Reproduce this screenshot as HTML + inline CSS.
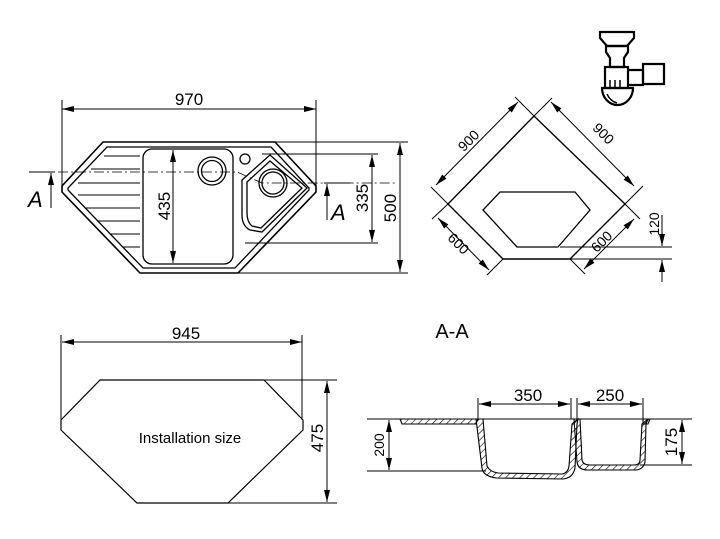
<!DOCTYPE html>
<html><head><meta charset="utf-8"><style>
html,body{margin:0;padding:0;background:#fff}
svg{display:block}
text{font-family:"Liberation Sans",sans-serif;fill:#000}
</style></head><body>
<svg width="720" height="539" viewBox="0 0 720 539" xmlns="http://www.w3.org/2000/svg">
<defs>
<marker id="a" viewBox="0 0 12 6" refX="12" refY="3" markerWidth="12" markerHeight="6" orient="auto-start-reverse" markerUnits="userSpaceOnUse"><path d="M0,0 L12,3 L0,6 Z" fill="#000"/></marker>
<pattern id="h" width="5" height="5" patternUnits="userSpaceOnUse" patternTransform="rotate(45)"><line x1="0" y1="0" x2="0" y2="5" stroke="#000" stroke-width="1.2"/></pattern>
</defs>
<g fill="none" stroke="#000" stroke-width="1.3">
<!-- top sink -->
<path d="M103,142 L275,142 L316,186 L316,192 L238,273 L140,273 L62,192 L62,186 Z" stroke-width="1.6"/>
<path d="M107,147 L271,147 L309,188 L309,190 L235,268 L143,268 L68,190 L68,188 Z"/>
<rect x="143" y="149" width="90" height="115" rx="9"/>
<circle cx="212" cy="171" r="14"/><circle cx="212" cy="171" r="10.5"/>
<circle cx="245" cy="159" r="5"/>
<path d="M242,180 L270,155 L307,188 L262,232 L250,230 Q242,226 242,215 Z"/>
<path d="M247,182 L270,161 L302,188 L261,228 L252,226 Q247,222 247,213 Z"/>
<circle cx="273" cy="183" r="14"/><circle cx="273" cy="183" r="11"/>
<g stroke-width="1.1">
<line x1="104" y1="156" x2="140" y2="156"/><line x1="91" y1="169" x2="140" y2="169"/>
<line x1="78" y1="183" x2="140" y2="183"/><line x1="78" y1="195" x2="140" y2="195"/>
<line x1="85" y1="208" x2="140" y2="208"/><line x1="97" y1="221" x2="140" y2="221"/>
<line x1="110" y1="234" x2="140" y2="234"/><line x1="122" y1="247" x2="140" y2="247"/>
</g>
<path d="M58,172 L237,172 L262,183 L395,183" stroke-width="0.8" stroke-dasharray="10,3,2,3"/>
<!-- dims top sink -->
<g stroke-width="1">
<line x1="62" y1="100" x2="62" y2="186"/><line x1="316" y1="100" x2="316" y2="186"/>
<line x1="62" y1="109" x2="316" y2="109" marker-start="url(#a)" marker-end="url(#a)"/>
<line x1="173" y1="150" x2="173" y2="263" marker-start="url(#a)" marker-end="url(#a)"/>
<line x1="262" y1="154" x2="378" y2="154"/><line x1="245" y1="243" x2="378" y2="243"/>
<line x1="372" y1="155" x2="372" y2="242" marker-start="url(#a)" marker-end="url(#a)"/>
<line x1="275" y1="142" x2="408" y2="142"/><line x1="238" y1="273" x2="408" y2="273"/>
<line x1="400" y1="143" x2="400" y2="272" marker-start="url(#a)" marker-end="url(#a)"/>
<line x1="29" y1="172" x2="55" y2="172"/>
<line x1="51" y1="208" x2="51" y2="173" marker-end="url(#a)"/>
<line x1="324" y1="183" x2="350" y2="183"/>
<line x1="327" y1="220" x2="327" y2="184" marker-end="url(#a)"/>
</g>
<!-- top right diamond -->
<path d="M534,116 L625,204 L570,259 L503,259 L448,204 Z" stroke-width="1.4"/>
<path d="M500,192 L575,192 L590,210 L558,247 L517,247 L483,210 Z"/>
<g stroke-width="1">
<line x1="448" y1="204" x2="431" y2="187"/><line x1="534" y1="116" x2="515" y2="97"/>
<line x1="436" y1="185" x2="518" y2="102" marker-start="url(#a)" marker-end="url(#a)"/>
<line x1="534" y1="116" x2="552" y2="98"/><line x1="625" y1="204" x2="643" y2="186"/>
<line x1="551" y1="102" x2="634" y2="186" marker-start="url(#a)" marker-end="url(#a)"/>
<line x1="448" y1="204" x2="432" y2="219"/><line x1="503" y1="259" x2="487" y2="275"/>
<line x1="438" y1="218" x2="489" y2="270" marker-start="url(#a)" marker-end="url(#a)"/>
<line x1="570" y1="259" x2="585" y2="274"/><line x1="625" y1="204" x2="640" y2="219"/>
<line x1="584" y1="269" x2="634" y2="219" marker-start="url(#a)" marker-end="url(#a)"/>
<line x1="560" y1="247" x2="672" y2="247"/><line x1="570" y1="259" x2="672" y2="259"/>
<line x1="662" y1="215" x2="662" y2="246" marker-end="url(#a)"/>
<line x1="662" y1="282" x2="662" y2="260" marker-end="url(#a)"/>
</g>
<!-- siphon -->
<g stroke-width="2.2">
<path d="M600,32 L634,32 L634,38 L627,46 L607,46 L600,38 Z"/>
<path d="M606,46 L628,46 L628,52 L624,58 L624,67 L610,67 L610,58 L606,52 Z"/>
<rect x="605" y="67" width="23" height="21"/>
<path d="M628,70 L643,70 L643,85 L628,85"/>
<path d="M643,64 L664,64 L664,84 L643,84 Z"/>
<path d="M602,88 L633,88 A15.5,17 0 0 1 602,88 Z"/>
<path d="M610,88 L610,80 M615,88 L615,80 M620,88 L620,80" stroke-width="1.5"/>
<path d="M607,94 Q610,101 617,103" stroke-width="1.5"/>
</g>
<!-- installation -->
<path d="M100,380 L264,380 L303,420 L303,430 L228,503 L137,503 L61,430 L61,420 Z" stroke-width="1.2"/>
<g stroke-width="1">
<line x1="61" y1="335" x2="61" y2="420"/><line x1="302" y1="335" x2="302" y2="420"/>
<line x1="62" y1="342" x2="302" y2="342" marker-start="url(#a)" marker-end="url(#a)"/>
<line x1="264" y1="380" x2="337" y2="380"/><line x1="228" y1="503" x2="337" y2="503"/>
<line x1="327" y1="381" x2="327" y2="502" marker-start="url(#a)" marker-end="url(#a)"/>
</g>
<!-- section -->
<g stroke-width="1">
<line x1="367" y1="419" x2="692" y2="419"/>
<line x1="367" y1="471" x2="486" y2="471"/>
<line x1="389" y1="420" x2="389" y2="470" marker-start="url(#a)" marker-end="url(#a)"/>
<line x1="640" y1="465" x2="692" y2="465"/>
<line x1="682" y1="420" x2="682" y2="464" marker-start="url(#a)" marker-end="url(#a)"/>
<line x1="478" y1="398" x2="478" y2="419"/><line x1="571" y1="398" x2="571" y2="419"/>
<line x1="577" y1="398" x2="577" y2="419"/><line x1="643" y1="398" x2="643" y2="419"/>
<line x1="479" y1="404" x2="570" y2="404" marker-start="url(#a)" marker-end="url(#a)"/>
<line x1="578" y1="404" x2="642" y2="404" marker-start="url(#a)" marker-end="url(#a)"/>
</g>
<g fill="url(#h)" stroke-width="1.1">
<path d="M400,419 L478,419 L476,424 L402,424 Z"/>
<path d="M476,419 L483,419 L487,466 Q490,472 498,473 L562,474 Q568,473 569,466 L572,424 L578,419 L577,424 L575,468 Q573,478 563,479 L496,478 Q483,476 482,468 Z"/>
<path d="M574,419 L580,419 L582,460 Q583,465 590,465 L634,465 Q640,465 640,460 L642,424 L648,419 L646,424 L645,462 Q643,470 635,470 L588,470 Q578,470 577,462 Z"/>
<path d="M643,419 L650,419 L648,424 L643,424 Z"/>
</g>
</g>
<g font-size="17">
<text x="189" y="105" text-anchor="middle">970</text>
<text transform="translate(170,206) rotate(-90)" text-anchor="middle">435</text>
<text transform="translate(368,198) rotate(-90)" text-anchor="middle">335</text>
<text transform="translate(396,208) rotate(-90)" text-anchor="middle">500</text>
<text x="186" y="339" text-anchor="middle">945</text>
<text transform="translate(323,438) rotate(-90)" text-anchor="middle">475</text>
<text x="528" y="401" text-anchor="middle">350</text>
<text x="610" y="401" text-anchor="middle">250</text>
<text transform="translate(677,442) rotate(-90)" text-anchor="middle">175</text>
<text x="452" y="338" text-anchor="middle" font-size="20">A-A</text>
<text x="28" y="207" font-size="22" font-style="italic">A</text>
<text x="331" y="220" font-size="22" font-style="italic">A</text>
</g>
<g font-size="14">
<text transform="translate(472,144) rotate(-45)" text-anchor="middle">900</text>
<text transform="translate(600,137) rotate(45)" text-anchor="middle">900</text>
<text transform="translate(455,247) rotate(45)" text-anchor="middle">600</text>
<text transform="translate(605,245) rotate(-45)" text-anchor="middle">600</text>
<text transform="translate(659,224) rotate(-90)" text-anchor="middle">120</text>
<text transform="translate(384,445) rotate(-90)" text-anchor="middle">200</text>
</g>
<text x="190" y="443" text-anchor="middle" font-size="15">Installation size</text>
</svg>
</body></html>
